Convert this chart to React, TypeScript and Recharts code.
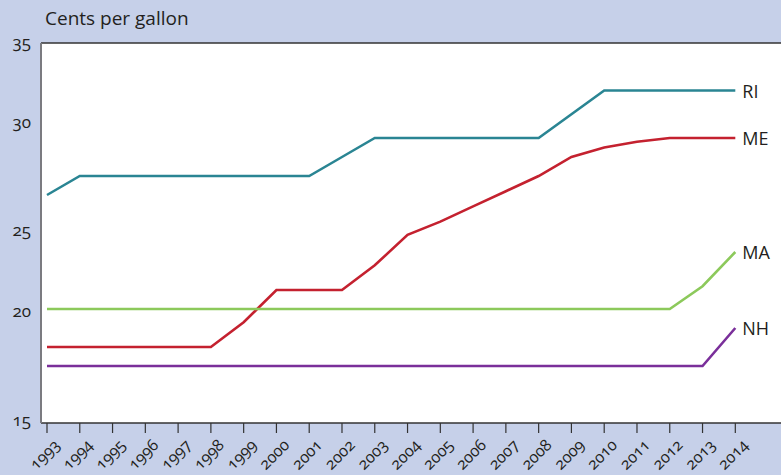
import { LineChart, Line, XAxis, YAxis, CartesianGrid, ReferenceLine } from 'recharts';

const years = [1993, 1994, 1995, 1996, 1997, 1998, 1999, 2000, 2001, 2002, 2003, 2004, 2005, 2006, 2007, 2008, 2009, 2010, 2011, 2012, 2013, 2014];
const ri = [27, 28, 28, 28, 28, 28, 28, 28, 28, 29, 30, 30, 30, 30, 30, 30, 31.25, 32.5, 32.5, 32.5, 32.5, 32.5];
const me = [19, 19, 19, 19, 19, 19, 20.3, 22, 22, 22, 23.3, 24.9, 25.6, 26.4, 27.2, 28, 29, 29.5, 29.8, 30, 30, 30];
const ma = [21, 21, 21, 21, 21, 21, 21, 21, 21, 21, 21, 21, 21, 21, 21, 21, 21, 21, 21, 21, 22.2, 24];
const nh = [18, 18, 18, 18, 18, 18, 18, 18, 18, 18, 18, 18, 18, 18, 18, 18, 18, 18, 18, 18, 18, 20];
const yTicks = [15, 20, 25, 30, 35];

const data = years.map((year, i) => ({ year, RI: ri[i], ME: me[i], MA: ma[i], NH: nh[i] }));

const FONT = '"Open Sans", "DejaVu Sans", sans-serif';
const INK = '#231f20';
const BG = '#c6d0e9';

// the source nudges a few of its y labels off their gridline
const yLabelShift: Record<number, number> = { 35: -2, 30: -17, 25: -4, 20: -18, 15: -4 };

function YTick({ x, y, payload }: any) {
  return (
    <text
      x={x - 2}
      y={y + (yLabelShift[payload.value] ?? 0)}
      textAnchor="end"
      dominantBaseline="central"
      fontSize={17}
      fill={INK}
      style={{ fontVariantNumeric: 'oldstyle-nums' }}
    >
      {payload.value}
    </text>
  );
}

function YearTick({ x, y, payload }: any) {
  return (
    <g transform={`translate(${x + 10},${y + 7}) rotate(-45)`}>
      <text textAnchor="end" dy="0.35em" fontSize={16} fill={INK} style={{ fontVariantNumeric: 'oldstyle-nums' }}>
        {payload.value}
      </text>
    </g>
  );
}

function endLabel(name: string) {
  return (props: any) => {
    if (props.index !== years.length - 1) return null;
    return (
      <text key={name} x={props.x + 7} y={props.y} dominantBaseline="central" fontSize={18} fill={INK}>
        {name}
      </text>
    );
  };
}

export default function App() {
  return (
    <div style={{ position: 'absolute', left: 0, top: 0, width: 781, height: 475, background: BG, fontFamily: FONT }}>
      <div style={{ position: 'absolute', left: 45, top: 5, fontSize: 19, color: INK }}>Cents per gallon</div>
      <LineChart width={781} height={475} data={data} margin={{ top: 43, right: 0, bottom: 0, left: 0 }}>
        <CartesianGrid vertical={false} horizontal={false} fill="#fff" stroke="none" />
        <XAxis
          dataKey="year"
          type="number"
          domain={[1992.817, 2015.394]}
          ticks={years}
          allowDataOverflow
          interval={0}
          height={52}
          tick={<YearTick />}
          tickSize={10}
          tickLine={{ stroke: '#333', strokeWidth: 1.2 }}
          axisLine={{ stroke: '#333', strokeWidth: 1.5 }}
        />
        <YAxis
          type="number"
          domain={[15, 35]}
          ticks={yTicks}
          width={41}
          tick={<YTick />}
          tickLine={false}
          axisLine={{ stroke: '#7b7b80', strokeWidth: 2 }}
        />
        <ReferenceLine y={35} stroke="#333" strokeWidth={1.5} />
        <Line dataKey="RI" stroke="#2a8593" strokeWidth={2.6} dot={false} isAnimationActive={false} label={endLabel('RI')} />
        <Line dataKey="ME" stroke="#c4212f" strokeWidth={2.6} dot={false} isAnimationActive={false} label={endLabel('ME')} />
        <Line dataKey="MA" stroke="#8cc95b" strokeWidth={2.6} dot={false} isAnimationActive={false} label={endLabel('MA')} />
        <Line dataKey="NH" stroke="#7a2f9a" strokeWidth={2.6} dot={false} isAnimationActive={false} label={endLabel('NH')} />
      </LineChart>
    </div>
  );
}
